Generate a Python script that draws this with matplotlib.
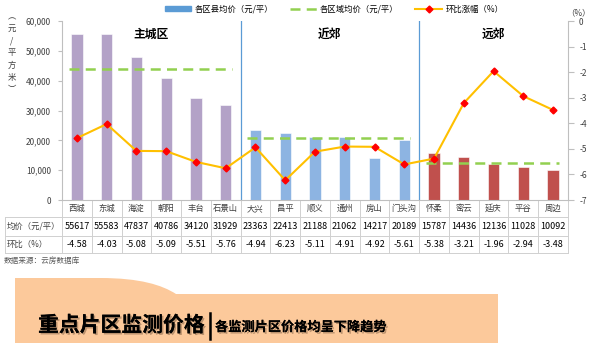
import matplotlib
matplotlib.use("Agg")
import matplotlib.pyplot as plt
import matplotlib.patheffects as pe
import matplotlib.transforms as mtransforms
from matplotlib.path import Path
from matplotlib.patches import PathPatch, Patch
from matplotlib.lines import Line2D
from matplotlib.ticker import FuncFormatter

plt.rcParams['font.family'] = ['Noto Sans CJK SC', 'DejaVu Sans']

# data
districts = ["西城", "东城", "海淀", "朝阳", "丰台", "石景山",
             "大兴", "昌平", "顺义", "通州", "房山", "门头沟",
             "怀柔", "密云", "延庆", "平谷", "周边"]
prices = [55617, 55583, 47837, 40786, 34120, 31929,
          23363, 22413, 21188, 21062, 14217, 20189,
          15787, 14436, 12136, 11028, 10092]
mom = [-4.58, -4.03, -5.08, -5.09, -5.51, -5.76,
       -4.94, -6.23, -5.11, -4.91, -4.92, -5.61,
       -5.38, -3.21, -1.96, -2.94, -3.48]
groups = ["主城区", "近郊", "远郊"]
group_start = [0, 6, 12]
group_end = [5, 11, 16]
group_avg = [43800, 20800, 12300]
group_colors = ["#B3A2C7", "#8DB4E2", "#C0504D"]

W, H = 593, 356
fig = plt.figure(figsize=(W / 100, H / 100), dpi=100)

# overlay in pixel coords for table / banner
ov = fig.add_axes([0, 0, 1, 1], zorder=0)
ov.set_xlim(0, W)
ov.set_ylim(H, 0)
ov.axis('off')

ax = fig.add_axes([62 / W, (H - 200) / H, 506 / W, 179 / H], zorder=2)
ax.patch.set_alpha(0)
ax.set_xlim(-0.5, len(districts) - 0.5)
ax.set_ylim(0, 60000)
ax.set_yticks(range(0, 60001, 10000))
ax.yaxis.set_major_formatter(FuncFormatter(lambda v, p: f"{int(v):,}"))
ax.set_xticks([])
ax.tick_params(axis='y', labelsize=6, colors='#bfbfbf', labelcolor='#404040',
               length=3, pad=5)
for s in ['top', 'right']:
    ax.spines[s].set_visible(False)
for s in ['left', 'bottom']:
    ax.spines[s].set_color('#bfbfbf')
    ax.spines[s].set_linewidth(0.8)

bar_colors = []
for g, (a, b) in enumerate(zip(group_start, group_end)):
    bar_colors += [group_colors[g]] * (b - a + 1)
ax.bar(range(len(districts)), prices, width=0.38, color=bar_colors,
       edgecolor='white', linewidth=0.4)

for g in range(3):
    ax.plot([group_start[g] - 0.28, group_end[g] + 0.2], [group_avg[g]] * 2,
            color='#92D050', lw=1.8, ls=(0, (4, 2.5)))
    ax.text((group_start[g] + group_end[g]) / 2, 55500, groups[g],
            ha='center', va='center', fontsize=8.5, fontweight='bold')
for b in group_end[:-1]:
    ax.axvline(b + 0.5, color='#5B9BD5', lw=0.9)

fig.text(12 / W, 1 - 53 / H, "\n".join("︵元/平方米︶"), ha='center', va='center',
         fontsize=6, color='#404040', linespacing=1.45)

ax2 = ax.twinx()
ax2.set_ylim(-7, 0)
ax2.set_yticks(range(0, -8, -1))
ax2.set_yticklabels([str(v) for v in range(0, -8, -1)])
ax2.tick_params(axis='y', labelsize=6, colors='#bfbfbf', labelcolor='#404040',
                length=4, pad=4)
for s in ['top', 'left', 'bottom']:
    ax2.spines[s].set_visible(False)
ax2.spines['right'].set_color('#bfbfbf')
ax2.spines['right'].set_linewidth(0.8)
ax2.plot(range(len(districts)), mom, color='#FFC000', lw=1.5, marker='D',
         ms=3.5, mfc='#FF0000', mec='#FF0000')
fig.text(578 / W, 1 - 13 / H, "（%）", ha='center', va='center', fontsize=6,
         color='#404040')

# legend
handles = [Patch(color='#5B9BD5'),
           Line2D([], [], color='#92D050', lw=1.8, ls=(0, (4, 2.5))),
           Line2D([], [], color='#FFC000', lw=1.5, marker='D', ms=3.5,
                  mfc='#FF0000', mec='#FF0000')]
labels = ["各区县均价（元/平）", "各区域均价（元/平）", "环比涨幅（%）"]
fig.legend(handles, labels, loc='center', bbox_to_anchor=(334 / W, 1 - 9 / H),
           ncol=3, frameon=False, fontsize=6, handlelength=3.2,
           handleheight=0.5, columnspacing=2.0, handletextpad=0.4)

# table below the chart
blend = mtransforms.blended_transform_factory(ax.transData, ov.transData)
grid_c = '#d0d0d0'
x_left, x_right = 5, 568
for y in [217, 236, 253]:
    ov.plot([x_left, x_right], [y, y], color=grid_c, lw=0.7)
ov.plot([x_left, x_left], [217, 253], color=grid_c, lw=0.7)
for k in range(len(districts) + 1):
    ov.plot([k - 0.5, k - 0.5], [200, 253], color=grid_c, lw=0.7,
            transform=blend)
for i, name in enumerate(districts):
    ov.text(i, 208.5, name, transform=blend, ha='center', va='center',
            fontsize=6, color='#404040')
    ov.text(i, 226.5, str(prices[i]), transform=blend, ha='center',
            va='center', fontsize=6.5, color='#000000')
    ov.text(i, 244.5, f"{mom[i]:.2f}", transform=blend, ha='center',
            va='center', fontsize=6.5, color='#000000')
ov.text(7, 226.5, "均价（元/平）", ha='left', va='center', fontsize=6,
        color='#404040')
ov.text(7, 244.5, "环比（%）", ha='left', va='center', fontsize=6,
        color='#404040')
ov.text(4, 261, "数据来源：云房数据库", ha='left', va='center', fontsize=5.5,
        color='#595959')

# banner
verts = [(15, 343), (15, 278), (100, 278), (140, 278), (162, 285), (176, 294),
         (498, 294), (498, 343), (15, 343)]
codes = [Path.MOVETO, Path.LINETO, Path.LINETO, Path.CURVE4, Path.CURVE4,
         Path.CURVE4, Path.LINETO, Path.LINETO, Path.CLOSEPOLY]
ov.add_patch(PathPatch(Path(verts, codes), facecolor='#FCC99B',
                       edgecolor='none'))
shadow = [pe.withSimplePatchShadow(offset=(1.2, -1.2), shadow_rgbFace='#7a5a40',
                                   alpha=0.5), pe.Normal()]
t1 = ov.text(38, 325, "重点片区监测价格", ha='left', va='center', fontsize=15,
             fontweight='bold', color='#000000')
t1.set_path_effects(shadow)
ov.plot([210, 210], [313, 339], color='#000000', lw=1.8)
t2 = ov.text(215, 327, "各监测片区价格均呈下降趋势", ha='left', va='center',
             fontsize=9.5, fontweight='bold', color='#000000')
t2.set_path_effects(shadow)

fig.savefig("out.png", dpi=100)
